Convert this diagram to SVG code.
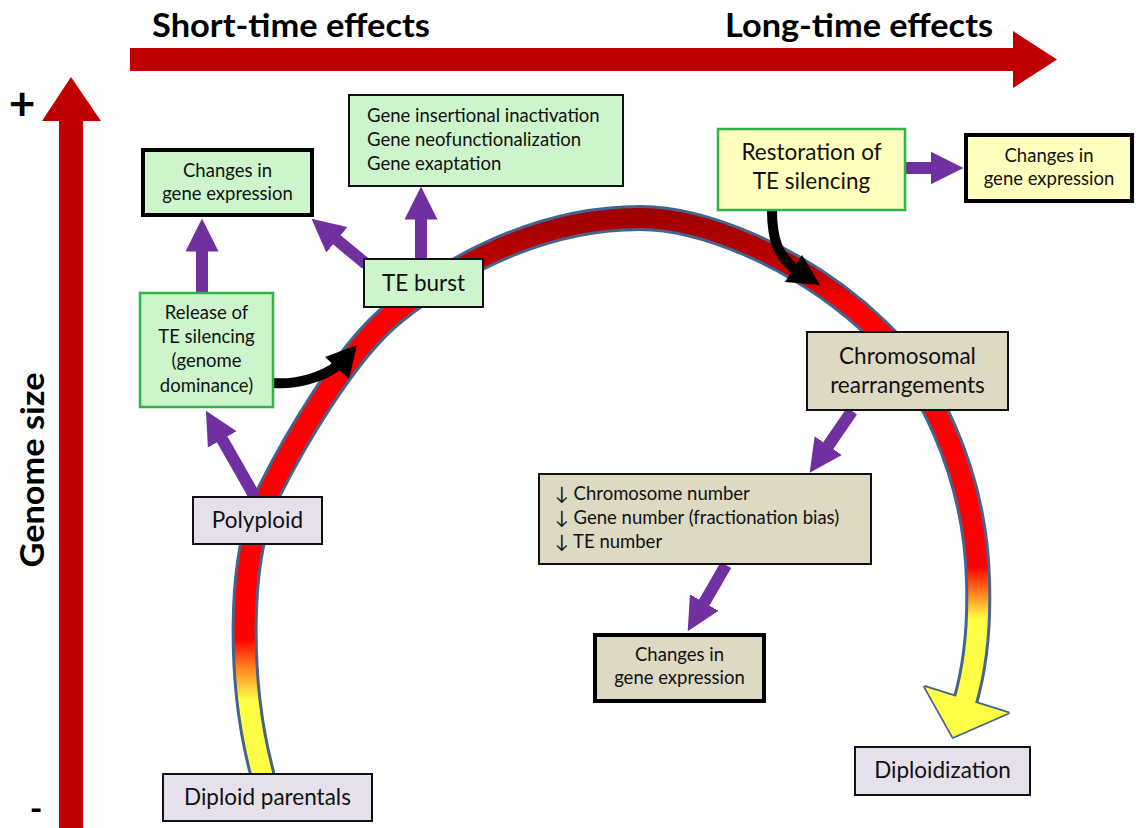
<svg xmlns="http://www.w3.org/2000/svg" width="1136" height="828" viewBox="0 0 1136 828">
<style>
.t{font-family:Lato,"DejaVu Sans","Liberation Sans",sans-serif;fill:#111}
.s{font-size:18.5px}
.b{font-size:22.5px}
.h{font-size:33px;font-weight:bold;fill:#000}
.m{text-anchor:middle}
.green{fill:#ccf5cc}
.yel{fill:#ffffbe}
.lav{fill:#e5e0ec}
.beige{fill:#ddd9c3}
.k2{stroke:#111;stroke-width:2}
.k4{stroke:#000;stroke-width:4}
.g2{stroke:#2db34a;stroke-width:2.5}
.pa{stroke:#7030a0;stroke-width:12;fill:none;marker-end:url(#ph)}
.ba{stroke:#000;stroke-width:10;fill:none}
</style>
<defs>
<marker id="ph" markerUnits="userSpaceOnUse" markerWidth="34" markerHeight="34" viewBox="0 -17 34 34" refX="0.5" refY="0" orient="auto">
<path d="M0,-16.5 L33,0 L0,16.5 Z" fill="#7030a0"/>
</marker>
<linearGradient id="gl" gradientUnits="userSpaceOnUse" x1="0" y1="215" x2="0" y2="780">
<stop offset="0" stop-color="#a00000"/>
<stop offset="0.09" stop-color="#c00000"/>
<stop offset="0.15" stop-color="#ff0000"/>
<stop offset="0.75" stop-color="#ff0000"/>
<stop offset="0.8" stop-color="#ff8020"/>
<stop offset="0.86" stop-color="#ffff45"/>
<stop offset="1" stop-color="#ffff45"/>
</linearGradient>
<linearGradient id="gr" gradientUnits="userSpaceOnUse" x1="0" y1="215" x2="0" y2="740">
<stop offset="0" stop-color="#a00000"/>
<stop offset="0.11" stop-color="#c00000"/>
<stop offset="0.17" stop-color="#ff0000"/>
<stop offset="0.67" stop-color="#ff0000"/>
<stop offset="0.72" stop-color="#ff8020"/>
<stop offset="0.77" stop-color="#ffff45"/>
<stop offset="1" stop-color="#ffff45"/>
</linearGradient>
</defs>
<rect width="1136" height="828" fill="#fff"/>

<g id="axes">
<polygon points="130,48 1013,48 1013,31 1057,59.5 1013,88 1013,71 130,71" fill="#c00000"/>
<polygon points="59,828 59,121 42,121 71,77 101,121 83,121 83,828" fill="#c00000"/>
<text class="t h" x="152" y="37" textLength="278" lengthAdjust="spacingAndGlyphs">Short-time effects</text>
<text class="t h" x="725" y="37" textLength="268" lengthAdjust="spacingAndGlyphs">Long-time effects</text>
<text class="t h" transform="translate(44,470) rotate(-90)" text-anchor="middle" textLength="195" lengthAdjust="spacingAndGlyphs">Genome size</text>
<text class="t m" x="22" y="120" style="font-size:46px;font-weight:bold;fill:#000">+</text>
<text class="t m" x="36" y="821" style="font-size:34px;font-weight:bold;fill:#000">-</text>
</g>

<g id="arc">
<path d="M262,785 L262,773 C240,690 235,560 270,490 C290,450 344,353 394,313 C440,276 530,218 640,218 C700,218 800,255 878,330 C926,376 975,470 978,580 C980,640 972,678 965,702 L961,714" fill="none" stroke="#43648f" stroke-width="26"/>
<polygon points="925,687 1008,713 953,737" fill="#ffff45" stroke="#43648f" stroke-width="3.5" stroke-linejoin="round"/>
<path d="M262,785 L262,773 C240,690 235,560 270,490 C290,450 344,353 394,313 C440,276 530,218 640,218" fill="none" stroke="url(#gl)" stroke-width="20"/>
<path d="M640,218 C700,218 800,255 878,330 C926,376 975,470 978,580 C980,640 972,678 965,702 L961,714" fill="none" stroke="url(#gr)" stroke-width="20"/>
<polygon points="925,687 1008,713 953,737" fill="#ffff45"/>
</g>

<g id="connectors">
<path class="pa" d="M202,292 L202,251"/>
<path class="pa" d="M366,264 L336.5,239.5"/>
<path class="pa" d="M421,259 L421,219"/>
<path class="pa" d="M255,497 L222,439"/>
<path class="pa" d="M906,168 L931,168"/>
<path class="pa" d="M852,411 L828,446"/>
<path class="pa" d="M726,565 L704,603"/>
<path class="ba" d="M273,383 C295,385 322,378 340,364"/>
<polygon points="325,357 357,345 349,379" fill="#000"/>
<path class="ba" d="M772,210 C772,240 778,256 797,271"/>
<polygon points="785,282 802,255 820,285" fill="#000"/>
</g>

<g id="n-changes-tl">
<rect class="green k4" x="143" y="150" width="169" height="65"/>
<text class="t s m" x="227.5" y="177">Changes in</text>
<text class="t s m" x="227.5" y="200">gene expression</text>
</g>
<g id="n-gene">
<rect class="green k2" x="349" y="95" width="274" height="91"/>
<text class="t s" x="367" y="122">Gene insertional inactivation</text>
<text class="t s" x="367" y="146">Gene neofunctionalization</text>
<text class="t s" x="367" y="170">Gene exaptation</text>
</g>
<g id="n-teburst">
<rect class="green k2" x="364" y="259" width="119" height="48"/>
<text class="t b m" x="423.5" y="291">TE burst</text>
</g>
<g id="n-release">
<rect class="green g2" x="140" y="293" width="133" height="114"/>
<text class="t s m" x="206.5" y="319">Release of</text>
<text class="t s m" x="206.5" y="343">TE silencing</text>
<text class="t s m" x="206.5" y="367">(genome</text>
<text class="t s m" x="206.5" y="392">dominance)</text>
</g>
<g id="n-polyploid">
<rect class="lav k2" x="193" y="497" width="129" height="47"/>
<text class="t b m" x="257.5" y="528">Polyploid</text>
</g>
<g id="n-diploid">
<rect class="lav k2" x="163" y="774" width="209" height="47"/>
<text class="t b m" x="267.5" y="805">Diploid parentals</text>
</g>
<g id="n-restoration">
<rect class="yel g2" x="718" y="129" width="187" height="81"/>
<text class="t b m" x="811.5" y="160">Restoration of</text>
<text class="t b m" x="811.5" y="189">TE silencing</text>
</g>
<g id="n-changes-r">
<rect class="yel k4" x="966" y="135" width="166" height="66"/>
<text class="t s m" x="1049" y="162">Changes in</text>
<text class="t s m" x="1049" y="185">gene expression</text>
</g>
<g id="n-chromo">
<rect class="beige k2" x="807" y="332" width="201" height="78"/>
<text class="t b m" x="907.5" y="364">Chromosomal</text>
<text class="t b m" x="907.5" y="393">rearrangements</text>
</g>
<g id="n-numbers">
<rect class="beige k2" x="539" y="474" width="332" height="90"/>
<text class="t s" x="555" y="500">↓ Chromosome number</text>
<text class="t s" x="555" y="524">↓ Gene number (fractionation bias)</text>
<text class="t s" x="555" y="548">↓ TE number</text>
</g>
<g id="n-changes-b">
<rect class="beige k4" x="595" y="635" width="169" height="66"/>
<text class="t s m" x="679.5" y="661">Changes in</text>
<text class="t s m" x="679.5" y="684">gene expression</text>
</g>
<g id="n-diploidization">
<rect class="lav k2" x="855" y="747" width="175" height="48"/>
<text class="t b m" x="942.5" y="778">Diploidization</text>
</g>
</svg>
